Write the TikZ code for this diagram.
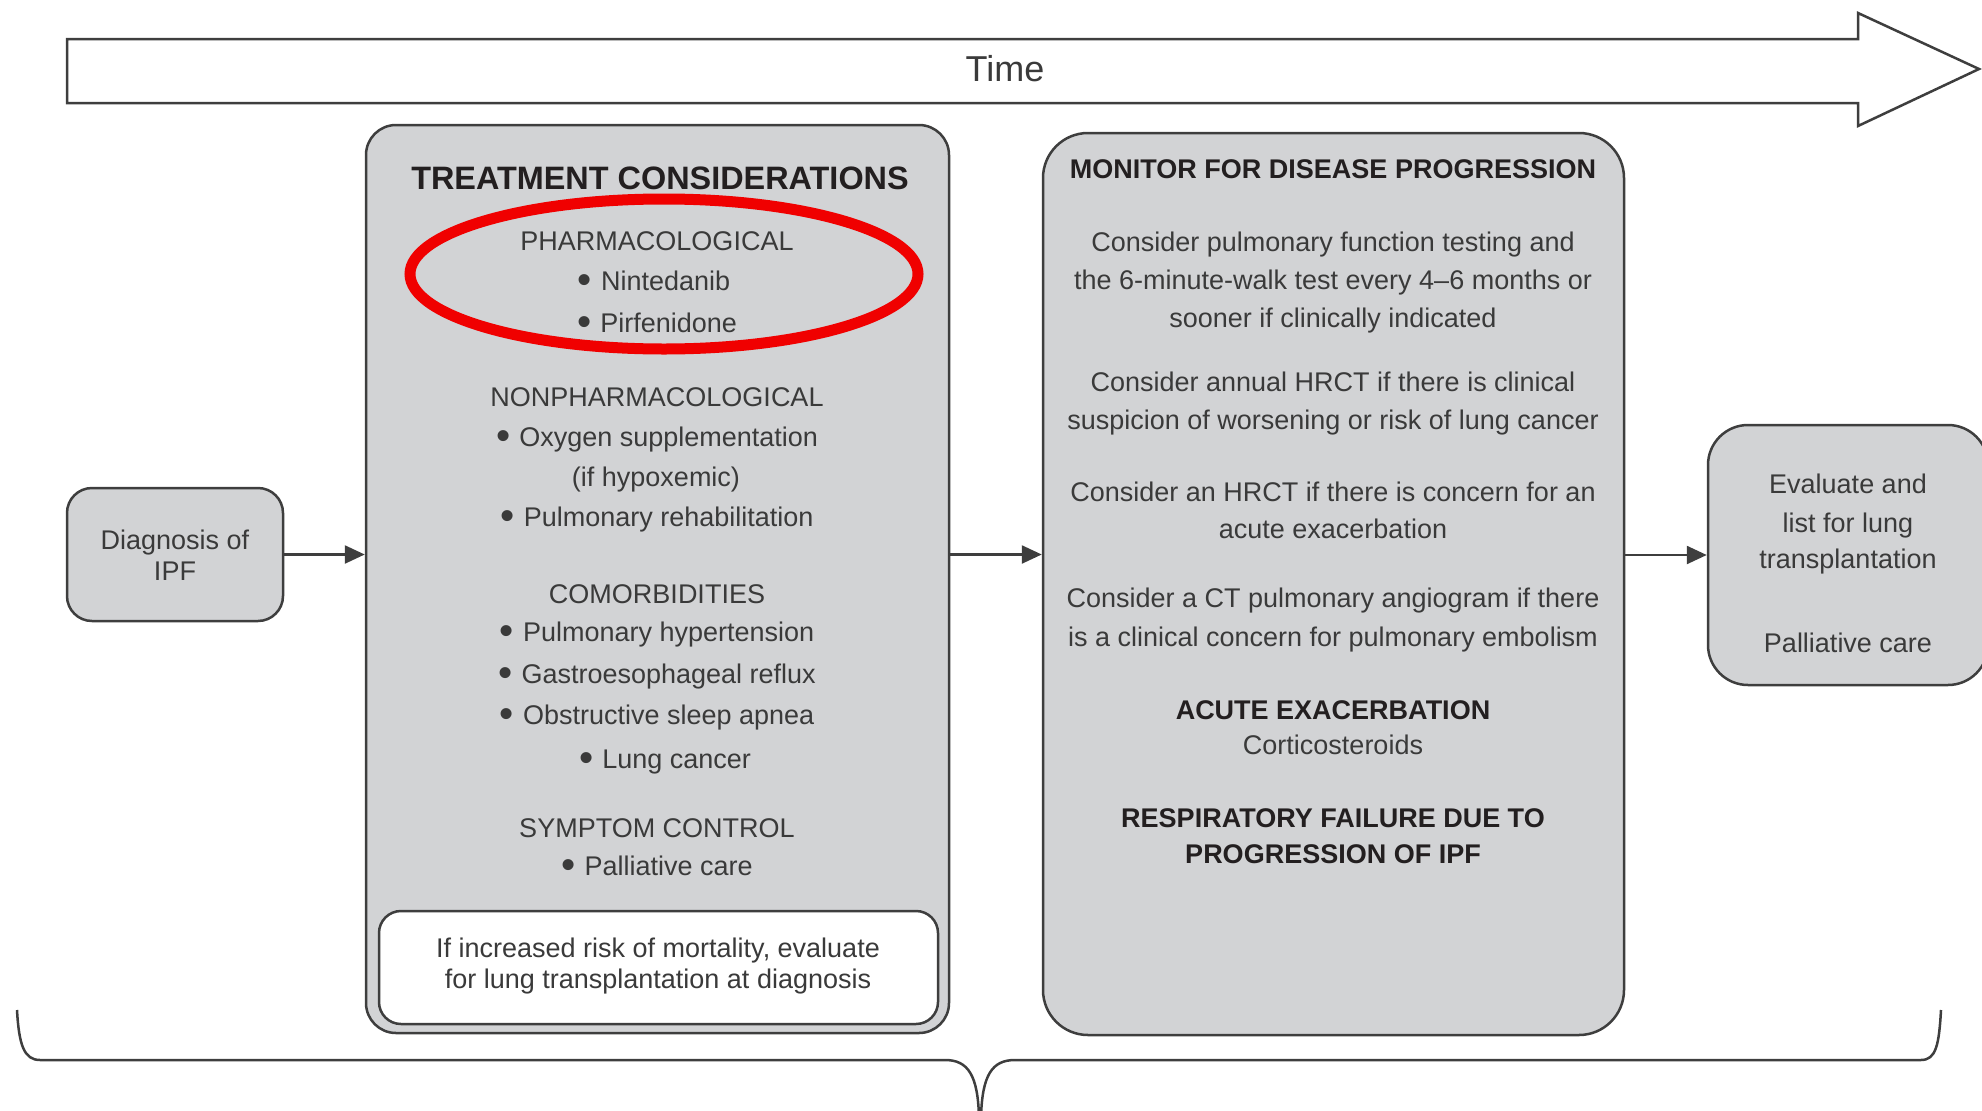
\documentclass[tikz,border=0pt]{standalone}
\usepackage{fontspec}
\setmainfont{Liberation Sans}
\usepackage{graphicx}
\usetikzlibrary{arrows.meta}
\definecolor{boxfill}{RGB}{210,211,213}
\definecolor{edgec}{RGB}{62,62,62}
\definecolor{textc}{RGB}{58,58,58}
\definecolor{titlec}{RGB}{35,31,32}
\definecolor{ringred}{RGB}{240,0,0}
\newcommand{\bul}{\raisebox{-3.5pt}{\scalebox{1.5}{•}}\hspace{9pt}}
\begin{document}
\begin{tikzpicture}[x=1pt,y=-1pt,
  panel/.style={draw=edgec, line width=2.5pt, fill=boxfill, rounded corners=#1, inner sep=0pt},
  whitepanel/.style={draw=edgec, line width=2.5pt, fill=white, rounded corners=#1, inner sep=0pt},
  body/.style={text=textc, font=\fontsize{27}{32}\selectfont, anchor=base, inner sep=0pt},
  head/.style={text=titlec, font=\fontsize{27}{32}\selectfont\bfseries, anchor=base, inner sep=0pt},
  bighead/.style={text=titlec, font=\fontsize{32.4}{38}\selectfont\bfseries, anchor=base, inner sep=0pt},
  arr/.style={draw=edgec, line width=2.5pt, -{Triangle[length=20pt,width=18pt]}},
  brace/.style={draw=edgec, line width=2.5pt},
  timearrow/.style={draw=edgec, line width=2.5pt, fill=white, line join=miter}]
\useasboundingbox (0,0) rectangle (1982,1111);

% Time arrow
\draw[timearrow] (67,39) -- (1858,39) -- (1858,13) -- (1979,69) -- (1858,126) -- (1858,103) -- (67,103) -- cycle;
\node[text=textc, font=\fontsize{36}{40}\selectfont, anchor=base, inner sep=0pt] (time) at (1005,81) {Time};

% Boxes
\node[panel=25pt, minimum width=216pt, minimum height=133pt] (diag) at (175,554.5) {};
\node[panel=30pt, minimum width=583pt, minimum height=908pt] (treat) at (657.5,579) {};
\node[whitepanel=22pt, minimum width=559pt, minimum height=113pt] (inner) at (658.5,967.5) {};
\node[panel=45pt, minimum width=581pt, minimum height=902pt] (mon) at (1333.5,584) {};
\node[panel=40pt, minimum width=280pt, minimum height=260pt] (rbox) at (1848,555) {};

% Connectors
\draw[arr] (diag.east) -- (diag.east -| treat.west);
\draw[arr] (diag.east -| treat.east) -- (diag.east -| mon.west);
\draw[arr] (mon.east |- rbox.west) -- (rbox.west);

% Diagnosis text
\node[body] (d1) at (175,549) {Diagnosis of};
\node[body] (d2) at (175,580) {IPF};

% Treatment text
\node[bighead] (t0) at (660,189) {TREATMENT CONSIDERATIONS};
\node[body] (t1) at (657,250) {PHARMACOLOGICAL};
\node[body] (t2) at (654,290) {\bul Nintedanib};
\node[body] (t3) at (657,332) {\bul Pirfenidone};
\node[body] (t4) at (657,406) {NONPHARMACOLOGICAL};
\node[body] (t5) at (657,446) {\bul Oxygen supplementation};
\node[body] (t6) at (656,486) {(if hypoxemic)};
\node[body] (t7) at (657,526) {\bul Pulmonary rehabilitation};
\node[body] (t8) at (657,603) {COMORBIDITIES};
\node[body] (t9) at (657,641) {\bul Pulmonary hypertension};
\node[body] (t10) at (657,683) {\bul Gastroesophageal reflux};
\node[body] (t11) at (657,724) {\bul Obstructive sleep apnea};
\node[body] (t12) at (665,768) {\bul Lung cancer};
\node[body] (t13) at (657,837) {SYMPTOM CONTROL};
\node[body] (t14) at (657,875) {\bul Palliative care};
\node[body] (t15) at (658,957) {If increased risk of mortality, evaluate};
\node[body] (t16) at (658,988) {for lung transplantation at diagnosis};

% Red ring
\draw[ringred, line width=11pt] (664,274) ellipse [x radius=254pt, y radius=75pt];

% Monitor text
\node[head] (m0) at (1333,178) {MONITOR FOR DISEASE PROGRESSION};
\node[body] (m1) at (1333,251) {Consider pulmonary function testing and};
\node[body] (m2) at (1333,289) {the 6-minute-walk test every 4–6 months or};
\node[body] (m3) at (1333,327) {sooner if clinically indicated};
\node[body] (m4) at (1333,391) {Consider annual HRCT if there is clinical};
\node[body] (m5) at (1333,429) {suspicion of worsening or risk of lung cancer};
\node[body] (m6) at (1333,501) {Consider an HRCT if there is concern for an};
\node[body] (m7) at (1333,538) {acute exacerbation};
\node[body] (m8) at (1333,607) {Consider a CT pulmonary angiogram if there};
\node[body] (m9) at (1333,646) {is a clinical concern for pulmonary embolism};
\node[head] (m10) at (1333,719) {ACUTE EXACERBATION};
\node[body] (m11) at (1333,754) {Corticosteroids};
\node[head] (m12) at (1333,827) {RESPIRATORY FAILURE DUE TO};
\node[head] (m13) at (1333,863) {PROGRESSION OF IPF};

% Right box text
\node[body] (r1) at (1848,493) {Evaluate and};
\node[body] (r2) at (1848,532) {list for lung};
\node[body] (r3) at (1848,568) {transplantation};
\node[body] (r4) at (1848,652) {Palliative care};

% Brace
\draw[brace] (17,1010) .. controls (19,1045) and (24,1060) .. (40,1060) -- (945,1060) .. controls (968,1060) and (978,1075) .. (979,1118);
\draw[brace] (981,1118) .. controls (982,1075) and (992,1060) .. (1015,1060) -- (1921,1060) .. controls (1936,1060) and (1939,1045) .. (1941,1010);
\end{tikzpicture}
\end{document}
